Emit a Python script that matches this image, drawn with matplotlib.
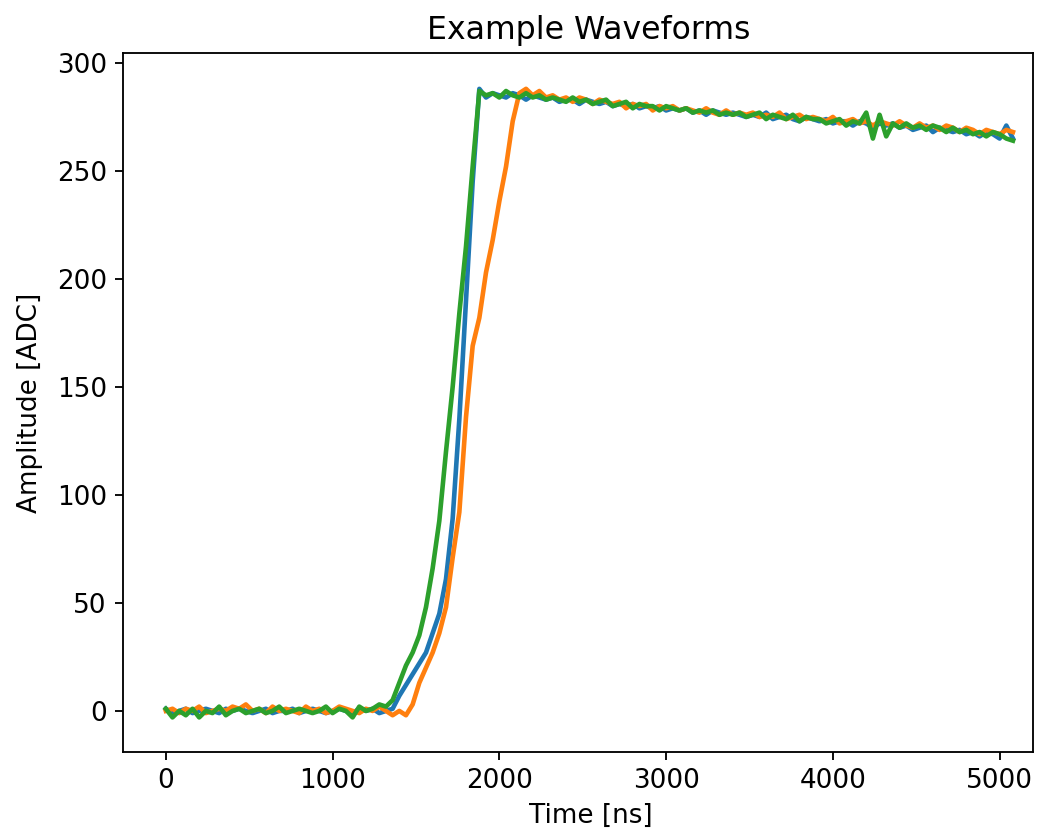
import numpy as np
import matplotlib
matplotlib.use("Agg")
import matplotlib.pyplot as plt

# sample times in ns (40 ns grid)
time_ns = np.arange(0, 5081, 40)

wave_blue = [
    1, -1, 0, 1, -1, 0, 1, 0, -1, 1, 0, 1, 0, -1, 0, 1, -1, 0, 0, 1,
    -1, 0, 1, 0, -1, 0, 1, 0, -1, 1, 0, 1, -1, 0,
    1, 7, 12, 17, 22, 27, 36, 45, 61, 89, 135, 190, 245, 288,
    284, 286, 285, 284, 286, 285, 283, 285, 284, 283,
    284, 282, 283, 283, 281, 283, 282, 281, 282, 280,
    281, 280, 281, 279, 280, 279, 280, 278, 279, 278,
    279, 277, 278, 276, 278, 277, 276, 277, 276, 275,
    276, 275, 277, 274, 275, 276, 274, 273, 275, 274,
    273, 274, 272, 273, 273, 271, 273, 272, 270, 272,
    271, 272, 270, 271, 269, 270, 271, 268, 270, 269,
    268, 269, 267, 268, 266, 268, 267, 265, 271, 265,
]

wave_orange = [
    0, 1, -1, 1, 0, 2, -1, 0, 1, 0, 2, 1, 3, 0, 1, -1, 2, 0, 1, 0,
    -1, 2, 0, 1, -1, 0, 2, 1, 0, -1, 1, 0, 2, 0, -2, 0, -2,
    3, 13, 20, 27, 36, 48, 71, 92, 136, 169, 182, 203, 218, 236, 252, 273, 286,
    288, 285, 287, 284,
    285, 283, 284, 282, 284, 283, 281, 283, 282, 281,
    282, 279, 281, 280, 281, 278, 280, 279, 280, 278,
    279, 278, 277, 279, 277, 276, 278, 276, 277, 276,
    277, 275, 276, 275, 277, 274, 275, 276, 274, 275,
    274, 273, 275, 272, 273, 274, 272, 273, 271, 273,
    272, 271, 273, 271, 270, 272, 270, 271, 269, 271,
    270, 268, 270, 269, 267, 269, 268, 267, 269, 268,
]

wave_green = [
    1, -3, 0, -2, 1, -3, 0, -1, 2, -2, 0, 1, -1, 0, 1, -1, 0, 2, -1, 0,
    1, 0, -1, 0, 2, -1, 1, 0, -3, 2, 0, 1, 3,
    2, 5, 13, 21, 27, 35, 48, 66, 88, 120, 150, 184, 215, 252,
    287,
    285, 286, 284, 287, 285, 284, 286, 284, 285, 283,
    284, 283, 282, 284, 282, 283, 281, 282, 283, 280,
    281, 282, 279, 281, 280, 280, 278, 280, 279, 278,
    279, 277, 278, 277, 278, 276, 277, 276, 277, 275,
    276, 277, 274, 276, 275, 274, 276, 273, 275, 274,
    274, 272, 273, 274, 271, 273, 272, 277, 265, 276,
    266, 272, 270, 272, 270, 271, 269, 271, 270, 268,
    270, 268, 269, 267, 268, 266, 268, 267, 265, 264,
]

plt.rcParams["font.size"] = 11.4
plt.rcParams["axes.titlesize"] = 13.7

fig = plt.figure(figsize=(1061 / 166, 832 / 166), dpi=166)
ax = fig.add_axes([0.1159, 0.0962, 0.8577, 0.8401])

for wave in [wave_blue, wave_orange, wave_green]:
    ax.plot(time_ns, wave, lw=2.0)

ax.set_xlim(-257, 5200)
ax.set_ylim(-19, 304.6)
ax.set_title("Example Waveforms", x=0.512)
ax.set_xlabel("Time [ns]", x=0.514)
ax.set_ylabel("Amplitude [ADC]", labelpad=6)

fig.savefig("out.png", dpi=166)
